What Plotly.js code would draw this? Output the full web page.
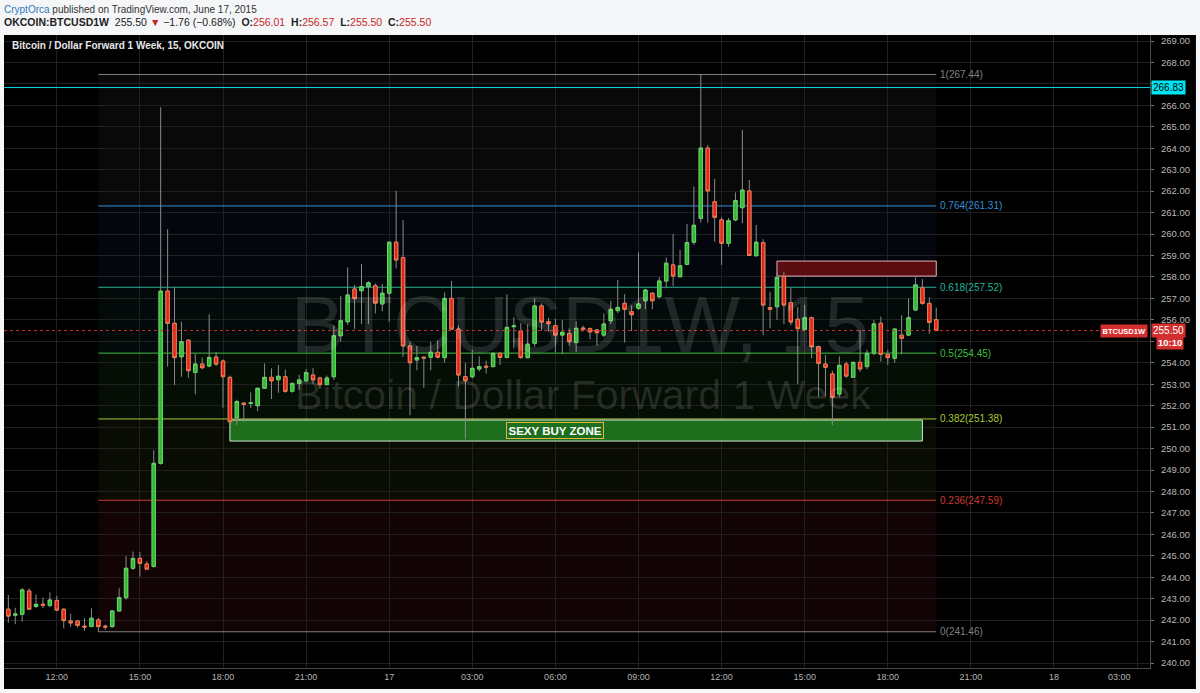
<!DOCTYPE html>
<html>
<head>
<meta charset="utf-8">
<script src="https://cdn.plot.ly/plotly-3.0.1.min.js"></script>
<style>
html,body{margin:0;padding:0;background:#f4f6f8;}
#chart{width:1200px;height:693px;}
</style>
</head>
<body>
<div id="chart"></div>
<script>
// ---- data (15-minute candles, OKCOIN BTCUSD1W, from 2015-06-16 10:15) ----
const START_UTC = Date.UTC(2015, 5, 16, 10, 15);
const STEP_MIN = 15;
const open = [242.51,242.23,242.27,243.36,242.64,242.74,242.68,242.92,242.51,241.96,
241.96,241.72,241.70,242.01,241.72,241.70,242.43,243.05,244.42,244.88,
244.62,244.50,249.31,257.34,255.84,254.28,255.05,253.55,253.94,253.85,
254.27,254.08,253.32,251.44,252.12,252.10,252.00,252.81,253.32,253.21,
253.35,252.67,253.03,253.16,253.43,253.29,252.98,253.35,255.26,255.91,
257.44,257.36,257.55,257.59,256.74,257.24,259.62,258.90,254.78,254.13,
254.26,254.26,254.49,254.24,257.00,255.57,253.35,253.35,253.71,253.84,
253.82,254.44,254.25,255.68,255.48,254.24,254.91,256.65,255.92,255.73,
255.29,255.37,254.94,255.62,255.59,255.53,255.29,255.96,256.43,256.77,
256.38,256.54,256.89,257.24,257.08,257.81,258.56,258.01,258.59,259.62,
260.73,264.01,261.51,260.66,259.57,260.66,261.23,262.01,258.99,259.60,
256.57,256.61,258.01,256.80,256.03,255.56,256.10,254.75,253.94,253.48,
252.54,253.94,253.32,254.02,253.82,254.44,255.84,254.39,254.21,255.29,
255.29,256.46,257.50,256.77,256.01];
const high = [243.17,242.58,243.49,243.49,243.20,243.05,243.30,243.13,242.55,242.30,
242.00,242.10,242.55,242.10,241.80,242.43,243.49,244.99,245.20,245.18,
244.75,249.93,265.91,260.23,257.52,255.91,255.10,254.40,254.25,256.26,
254.50,254.15,253.40,252.28,252.14,252.62,252.85,253.97,253.74,253.90,
253.68,253.06,253.44,253.70,253.75,253.35,253.40,255.73,257.11,258.45,
257.63,258.60,257.80,257.70,257.67,259.65,262.01,260.65,254.98,254.78,
254.28,254.98,255.05,257.28,257.81,255.73,254.00,254.60,254.30,254.10,
254.48,254.48,257.19,256.12,255.85,255.79,257.00,256.77,256.10,256.05,
256.00,255.60,255.93,255.73,255.65,255.56,256.30,256.89,257.86,257.20,
256.67,259.15,257.45,257.28,258.00,258.90,260.00,259.26,260.47,262.21,
267.44,264.15,262.57,260.78,260.75,261.94,264.85,262.52,260.42,259.76,
257.31,258.20,258.24,257.50,256.60,256.70,256.15,254.80,254.36,253.63,
254.30,254.05,254.05,255.53,254.60,256.00,256.15,254.60,255.60,256.22,
257.00,257.98,257.90,257.05,256.57];
const low = [241.88,241.81,241.93,242.47,242.56,242.56,242.60,242.41,241.62,241.70,
241.65,241.50,241.70,241.46,241.55,241.65,242.40,242.95,244.35,244.03,
244.35,244.45,249.25,253.82,252.96,253.35,253.30,252.53,253.70,253.79,
253.85,251.90,251.05,251.10,251.25,251.88,251.74,252.78,252.31,252.60,
252.60,252.60,252.74,253.14,253.02,252.80,252.95,253.20,254.98,255.76,
255.57,255.80,255.80,256.30,256.40,255.90,258.40,254.28,251.56,253.65,
252.84,253.65,254.20,254.00,255.57,252.89,250.43,253.27,253.60,253.50,
253.78,253.90,254.21,254.67,254.20,254.20,254.75,255.50,255.45,254.48,
254.40,254.80,254.50,255.45,255.10,254.80,255.20,255.80,256.31,254.94,
255.48,256.46,256.50,256.50,257.00,257.47,257.58,258.00,258.55,259.49,
260.53,260.53,259.64,258.56,259.40,260.60,260.50,258.99,258.95,255.29,
255.61,256.00,255.80,255.75,253.00,255.50,254.21,252.42,252.42,251.10,
252.40,253.30,253.30,253.58,253.70,254.35,254.05,253.90,254.00,254.39,
255.25,256.41,256.70,255.35,255.50];
const close = [242.19,242.29,243.41,242.51,242.74,242.70,242.94,242.47,241.98,241.87,
241.76,241.68,242.09,241.70,241.68,242.43,243.05,244.42,244.88,244.65,
244.38,249.31,257.34,255.84,254.24,254.98,253.63,253.94,253.77,254.25,
253.94,253.35,251.25,252.19,252.06,252.14,252.81,253.32,253.16,253.37,
252.67,253.04,253.20,253.54,253.20,252.98,253.29,255.26,255.96,257.16,
256.99,257.55,257.73,256.78,257.24,259.62,258.79,254.78,254.00,254.24,
254.22,254.49,254.26,257.00,255.57,253.43,253.16,253.74,253.82,253.80,
254.44,254.25,255.65,255.72,254.24,254.87,256.65,255.90,255.82,255.29,
255.42,254.98,255.61,255.56,255.44,255.40,255.81,256.49,256.58,256.49,
256.24,256.74,257.39,256.89,257.81,258.64,258.04,258.52,259.60,260.41,
264.01,262.01,260.78,259.57,260.62,261.56,262.05,259.00,259.62,256.69,
256.49,257.98,256.69,255.90,255.59,256.10,254.75,253.97,253.79,252.39,
253.88,253.38,254.02,253.71,254.44,255.81,254.39,254.24,255.57,255.14,
256.10,257.63,256.77,255.88,255.50];

// Fibonacci retracement (drawn 13:30 Jun 16 -> 19:45 Jun 17)
const fibRatios = ['1','0.764','0.618','0.5','0.382','0.236','0'];
const fibPrices = [267.44,261.31,257.52,254.45,251.38,247.59,241.46];
const fibStart = '2015-06-16 13:30';
const fibEnd = '2015-06-17 19:45';

const lastPrice = 255.50;
const alertPrice = 266.83;

const xTickVals = ['2015-06-16 12:00','2015-06-16 15:00','2015-06-16 18:00','2015-06-16 21:00',
 '2015-06-17 00:00','2015-06-17 03:00','2015-06-17 06:00','2015-06-17 09:00','2015-06-17 12:00',
 '2015-06-17 15:00','2015-06-17 18:00','2015-06-17 21:00','2015-06-18 00:00','2015-06-18 03:00'];
const xTickText = ['12:00','15:00','18:00','21:00','17','03:00','06:00','09:00','12:00','15:00','18:00','21:00','18',''];
const lastTimeLabel = '03:00';

const yTickVals = [240,241,242,243,244,245,246,247,248,249,250,251,252,253,254,255,256,257,258,259,260,261,262,263,264,265,266,267,268,269];
const yTickText = ['240.00','241.00','242.00','243.00','244.00','245.00','246.00','247.00','248.00','249.00','250.00','251.00','252.00','253.00','254.00','','256.00','257.00','258.00','259.00','260.00','261.00','262.00','263.00','264.00','265.00','266.00','','268.00','269.00'];

// ---- build ----
const times = open.map((_, i) => new Date(START_UTC + i * STEP_MIN * 60000).toISOString().slice(0,16).replace('T',' '));
const bodyHigh = open.map((o, i) => Math.max(o, close[i]));
const bodyLow = open.map((o, i) => Math.min(o, close[i]));

const wickTrace = {
  type:'candlestick', x:times, open:open, high:high, low:low, close:close,
  increasing:{line:{color:'#8a8a8a', width:1}, fillcolor:'#8a8a8a'},
  decreasing:{line:{color:'#8a8a8a', width:1}, fillcolor:'#8a8a8a'},
  hoverinfo:'skip', showlegend:false
};
const bodyTrace = {
  type:'candlestick', x:times, open:open, high:bodyHigh, low:bodyLow, close:close,
  increasing:{line:{color:'#63d463', width:1}, fillcolor:'#33b833'},
  decreasing:{line:{color:'#f27a4a', width:1}, fillcolor:'#e0261c'},
  hoverinfo:'skip', showlegend:false
};

const fibLineColors = ['#808080','#2f8fd8','#27b39a','#3fbf3f','#a9cc32','#c83a32','#808080'];
const fibFillColors = ['rgba(120,120,120,0.08)','rgba(40,90,170,0.08)','rgba(30,160,140,0.07)',
                       'rgba(60,180,60,0.08)','rgba(120,170,40,0.07)','rgba(200,40,40,0.09)'];

const shapes = [];
shapes.push({type:'rect', xref:'paper', yref:'paper', x0:0, x1:1.0401, y0:-0.0332, y1:1,
  fillcolor:'#000000', line:{width:0}, layer:'below'});
for (let k = 0; k < fibPrices.length - 1; k++) {
  shapes.push({type:'rect', xref:'x', yref:'y', x0:fibStart, x1:fibEnd, y0:fibPrices[k+1], y1:fibPrices[k],
    fillcolor:fibFillColors[k], line:{width:0}, layer:'below'});
}
fibPrices.forEach((p, k) => {
  shapes.push({type:'line', xref:'x', yref:'y', x0:fibStart, x1:fibEnd, y0:p, y1:p,
    line:{color:fibLineColors[k], width:1}, layer:'between'});
});
shapes.push({type:'rect', xref:'x', yref:'y', x0:'2015-06-16 18:15', x1:'2015-06-17 19:15', y0:250.35, y1:251.33,
  fillcolor:'#1d6e1d', line:{color:'#cfe8cf', width:1}, layer:'between'});
shapes.push({type:'rect', xref:'x', yref:'y', x0:'2015-06-17 14:00', x1:fibEnd, y0:258.04, y1:258.74,
  fillcolor:'#5a0c10', line:{color:'#e6b4b4', width:1}, layer:'between'});
shapes.push({type:'line', xref:'paper', yref:'y', x0:0, x1:1, y0:alertPrice, y1:alertPrice,
  line:{color:'#11d8e8', width:1}});
shapes.push({type:'line', xref:'paper', yref:'y', x0:0, x1:1, y0:lastPrice, y1:lastPrice,
  line:{color:'#d0302a', width:1, dash:'dot'}});

const FONT = 'Liberation Sans, Arial, sans-serif';
const annotations = [];
annotations.push({xref:'paper', yref:'paper', x:-0.002, y:1.041, xanchor:'left', yanchor:'middle', showarrow:false,
  text:'<span style="color:#2f7bbf">CryptOrca</span> published on TradingView.com, June 17, 2015',
  font:{family:FONT, size:10, color:'#333333'}});
annotations.push({xref:'paper', yref:'paper', x:-0.002, y:1.0205, xanchor:'left', yanchor:'middle', showarrow:false,
  text:'<b>OKCOIN:BTCUSD1W</b>  255.50 <span style="color:#c62828">▼</span> −1.76 (−0.68%)  <b>O:</b><span style="color:#c62828">256.01</span>  <b>H:</b><span style="color:#c62828">256.57</span>  <b>L:</b><span style="color:#c62828">255.50</span>  <b>C:</b><span style="color:#c62828">255.50</span>',
  font:{family:FONT, size:10.5, color:'#222222'}});
annotations.push({xref:'paper', yref:'paper', x:0.005, y:0.983, xanchor:'left', yanchor:'middle', showarrow:false,
  text:'<b>Bitcoin / Dollar Forward 1 Week, 15, OKCOIN</b>', font:{family:FONT, size:10, color:'#e8e8e8'}});
annotations.push({xref:'paper', yref:'paper', x:0.5026, y:0.542, xanchor:'center', yanchor:'middle', showarrow:false,
  text:'BTCUSD1W, 15', font:{family:FONT, size:80, color:'rgba(255,255,255,0.12)'}});
annotations.push({xref:'paper', yref:'paper', x:0.5052, y:0.431, xanchor:'center', yanchor:'middle', showarrow:false,
  text:'Bitcoin / Dollar Forward 1 Week', font:{family:FONT, size:41, color:'rgba(255,255,255,0.12)'}});
fibPrices.forEach((p, k) => {
  annotations.push({xref:'x', yref:'y', x:fibEnd, y:p, xanchor:'left', yanchor:'middle', xshift:2, showarrow:false,
    text:fibRatios[k] + '(' + p.toFixed(2) + ')', font:{family:FONT, size:10, color:fibLineColors[k]}});
});
annotations.push({xref:'x', yref:'y', x:'2015-06-17 06:00', y:250.84, xanchor:'center', yanchor:'middle', showarrow:false,
  text:'<b>SEXY BUY ZONE</b>', font:{family:FONT, size:11.5, color:'#ffffff'},
  bgcolor:'#1d6e1d', bordercolor:'#e3b341', borderwidth:1, borderpad:1.5});
// x label near the price axis
annotations.push({xref:'paper', yref:'paper', x:(1119-4)/1146, y:-0.0142, xanchor:'center', yanchor:'middle', showarrow:false,
  text:lastTimeLabel, font:{family:FONT, size:9, color:'#b4b4b4'}});
// price tags
annotations.push({xref:'paper', yref:'y', x:1, y:alertPrice, xanchor:'left', yanchor:'middle', xshift:1, showarrow:false,
  text:'266.83', font:{family:FONT, size:10, color:'#000000'}, bgcolor:'#00e5f2', borderpad:1});
annotations.push({xref:'paper', yref:'y', x:1, y:lastPrice, xanchor:'right', yanchor:'middle', xshift:-2, showarrow:false,
  text:'<b>BTCUSD1W</b>', font:{family:FONT, size:7.5, color:'#ffffff'}, bgcolor:'#d32f2f', borderpad:1.5});
annotations.push({xref:'paper', yref:'y', x:1, y:lastPrice, xanchor:'left', yanchor:'middle', xshift:1, showarrow:false,
  text:'255.50', font:{family:FONT, size:10, color:'#ffffff'}, bgcolor:'#d32f2f', borderpad:1});
annotations.push({xref:'paper', yref:'y', x:1, y:lastPrice, xanchor:'left', yanchor:'middle', xshift:6, yshift:-12, showarrow:false,
  text:'<b>10:10</b>', font:{family:FONT, size:9.5, color:'#ffffff'}, bgcolor:'#d32f2f', borderpad:1});

const layout = {
  width:1200, height:693,
  margin:{l:4, r:50, t:35, b:25, pad:0},
  paper_bgcolor:'#f4f6f8', plot_bgcolor:'#000000',
  showlegend:false, hovermode:false, dragmode:false,
  boxgap:0.3,
  xaxis:{type:'date', range:['2015-06-16 10:05:36','2015-06-18 03:28'],
    tickmode:'array', tickvals:xTickVals, ticktext:xTickText,
    tickfont:{family:FONT, size:9, color:'#b4b4b4'}, ticks:'', ticklen:0,
    showgrid:true, gridcolor:'#202020', gridwidth:1,
    showline:true, linecolor:'#4a4a4a', linewidth:1, mirror:false,
    rangeslider:{visible:false}, fixedrange:true, zeroline:false},
  yaxis:{side:'right', range:[239.77, 269.28], tickmode:'array', tickvals:yTickVals, ticktext:yTickText,
    tickfont:{family:FONT, size:9.5, color:'#b8b8b8'}, ticks:'outside', ticklen:3, tickcolor:'#777',
    ticklabelstandoff:5,
    showgrid:true, gridcolor:'#202020', gridwidth:1,
    showline:true, linecolor:'#4a4a4a', linewidth:1, zeroline:false, fixedrange:true},
  shapes:shapes, annotations:annotations
};

Plotly.newPlot('chart', [wickTrace, bodyTrace], layout, {displayModeBar:false, staticPlot:true});
</script>
</body>
</html>
